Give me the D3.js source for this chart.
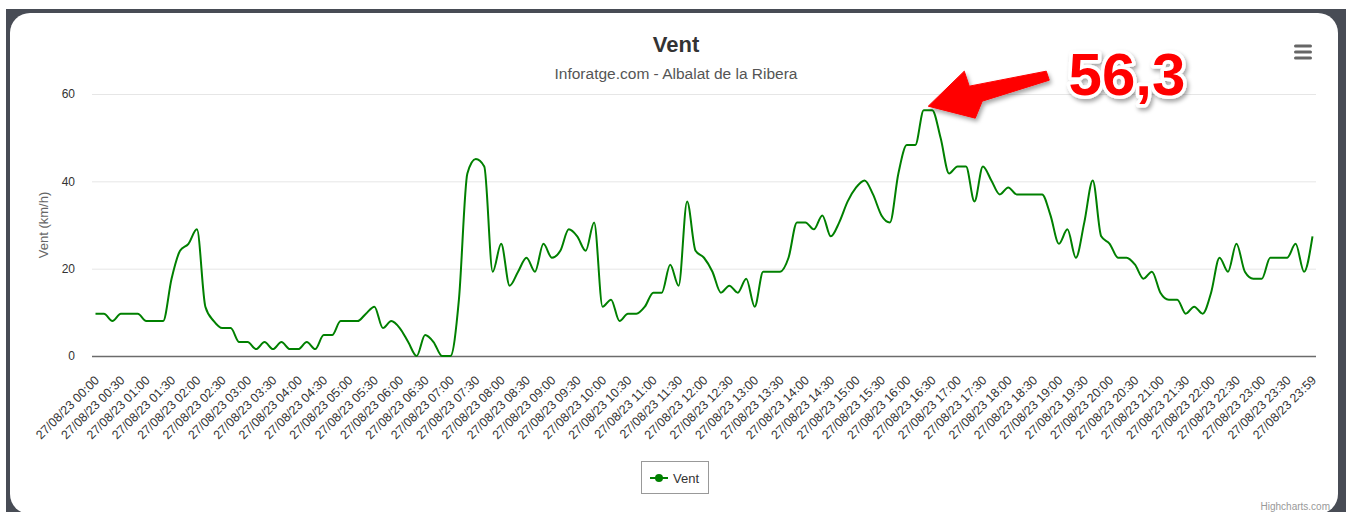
<!DOCTYPE html>
<html>
<head>
<meta charset="utf-8">
<script src="https://cdn.jsdelivr.net/npm/d3@7"></script>
<style>
  html, body { margin: 0; padding: 0; background: #fff; }
  svg { display: block; font-family: "Liberation Sans", Arial, Helvetica, sans-serif; }
</style>
</head>
<body>
<svg id="chart" width="1351" height="512"></svg>
<script>
// ---- data ----
const chartTitle = "Vent";
const chartSubtitle = "Inforatge.com - Albalat de la Ribera";
const yAxisTitle = "Vent (km/h)";
const seriesName = "Vent";
const yTicks = [0, 20, 40, 60];
const xLabels = [
  "27/08/23 00:00","27/08/23 00:30","27/08/23 01:00","27/08/23 01:30","27/08/23 02:00","27/08/23 02:30",
  "27/08/23 03:00","27/08/23 03:30","27/08/23 04:00","27/08/23 04:30","27/08/23 05:00","27/08/23 05:30",
  "27/08/23 06:00","27/08/23 06:30","27/08/23 07:00","27/08/23 07:30","27/08/23 08:00","27/08/23 08:30",
  "27/08/23 09:00","27/08/23 09:30","27/08/23 10:00","27/08/23 10:30","27/08/23 11:00","27/08/23 11:30",
  "27/08/23 12:00","27/08/23 12:30","27/08/23 13:00","27/08/23 13:30","27/08/23 14:00","27/08/23 14:30",
  "27/08/23 15:00","27/08/23 15:30","27/08/23 16:00","27/08/23 16:30","27/08/23 17:00","27/08/23 17:30",
  "27/08/23 18:00","27/08/23 18:30","27/08/23 19:00","27/08/23 19:30","27/08/23 20:00","27/08/23 20:30",
  "27/08/23 21:00","27/08/23 21:30","27/08/23 22:00","27/08/23 22:30","27/08/23 23:00","27/08/23 23:30",
  "27/08/23 23:59"
];
const labelStep = 3; // one label every 3 samples (10-minute samples)
const windValues = [
  9.7, 9.7, 8.0, 9.7, 9.7, 9.7, 8.0, 8.0, 8.0, 17.7,
  24.1, 25.7, 29.0, 11.3, 8.0, 6.4, 6.4, 3.2, 3.2, 1.6,
  3.2, 1.6, 3.2, 1.6, 1.6, 3.2, 1.6, 4.8, 4.8, 8.0,
  8.0, 8.0, 9.7, 11.3, 6.4, 8.0, 6.4, 3.2, 0, 4.8,
  3.2, 0, 0, 12.9, 41.8, 45.1, 43.4, 19.3, 25.7, 16.1,
  19.3, 22.5, 19.3, 25.7, 22.5, 24.1, 29.0, 27.4, 24.1, 30.6,
  11.3, 12.9, 8.0, 9.7, 9.7, 11.3, 14.5, 14.5, 20.9, 16.1,
  35.4, 24.1, 22.5, 19.3, 14.5, 16.1, 14.5, 17.7, 11.3, 19.3,
  19.3, 19.3, 22.5, 30.6, 30.6, 29.0, 32.2, 27.4, 30.6, 35.4,
  38.6, 40.2, 37.0, 32.2, 30.6, 41.8, 48.3, 48.3, 56.3, 56.3,
  49.9, 41.8, 43.4, 43.4, 35.4, 43.4, 40.2, 37.0, 38.6, 37.0,
  37.0, 37.0, 37.0, 32.2, 25.7, 29.0, 22.5, 30.6, 40.2, 27.4,
  25.7, 22.5, 22.5, 20.9, 17.7, 19.3, 14.5, 12.9, 12.9, 9.7,
  11.3, 9.7, 14.5, 22.5, 19.3, 25.7, 19.3, 17.7, 17.7, 22.5,
  22.5, 22.5, 25.7, 19.3, 27.4
];
const annotationText = "56,3";

// ---- drawing ----
const svg = d3.select("#chart");

// page frame + card
svg.append("rect").attr("x", 6).attr("y", 9).attr("width", 1340).attr("height", 520).attr("fill", "#484c55");
svg.append("rect").attr("x", 10).attr("y", 13).attr("width", 1328).attr("height", 501)
  .attr("rx", 20).attr("ry", 20).attr("fill", "#ffffff");

const plot = { left: 92, right: 1316, top: 94, bottom: 356 };

const x = d3.scaleLinear().domain([0, windValues.length - 1]).range([95.5, 1312.5]);
const y = d3.scaleLinear().domain([0, 60]).range([plot.bottom, plot.top]);

// gridlines + y labels
const yAxis = d3.axisLeft(y).tickValues(yTicks).tickSize(-(plot.right - plot.left)).tickPadding(17);
const gy = svg.append("g").attr("transform", `translate(${plot.left},0)`).call(yAxis);
gy.select(".domain").remove();
gy.selectAll(".tick line").attr("stroke", "#e6e6e6").attr("stroke-width", 1);
gy.selectAll(".tick text").attr("fill", "#333").attr("font-size", 12).style("font-family", "Liberation Sans, Arial, sans-serif");

// x axis
const tickIdx = d3.range(0, windValues.length, labelStep);
const xAxis = d3.axisBottom(x).tickValues(tickIdx).tickSize(0)
  .tickFormat((d, i) => xLabels[i]);
const gx = svg.append("g").attr("transform", `translate(0,${plot.bottom})`).call(xAxis);
gx.select(".domain").remove();
gx.selectAll(".tick text")
  .attr("fill", "#333").attr("font-size", 12.5)
  .style("font-family", "Liberation Sans, Arial, sans-serif")
  .attr("text-anchor", "end")
  .attr("dy", null).attr("y", 0)
  .attr("transform", "translate(4,25) rotate(-45)");
svg.append("line").attr("x1", plot.left).attr("x2", plot.right)
  .attr("y1", plot.bottom + 0.5).attr("y2", plot.bottom + 0.5)
  .attr("stroke", "#6b6b6b").attr("stroke-width", 1.4);

// y axis title
svg.append("text").attr("transform", `translate(48,${(plot.top + plot.bottom) / 2}) rotate(-90)`)
  .attr("text-anchor", "middle").attr("font-size", 13).attr("fill", "#666").text(yAxisTitle);

// line
const line = d3.line().x((d, i) => x(i)).y(d => y(d)).curve(d3.curveMonotoneX);
svg.append("path").datum(windValues).attr("d", line)
  .attr("fill", "none").attr("stroke", "#008000").attr("stroke-width", 2).attr("stroke-linejoin", "round");

// title & subtitle
svg.append("text").attr("x", 676).attr("y", 52).attr("text-anchor", "middle")
  .attr("font-size", 22).attr("font-weight", "bold").attr("fill", "#333").text(chartTitle);
svg.append("text").attr("x", 676).attr("y", 78.5).attr("text-anchor", "middle")
  .attr("font-size", 15.5).attr("fill", "#555").text(chartSubtitle);

// menu icon
[46, 52, 58].forEach(yy => {
  svg.append("rect").attr("x", 1294).attr("y", yy - 1.5).attr("width", 18).attr("height", 3)
    .attr("rx", 1.5).attr("fill", "#666");
});

// legend
const lg = svg.append("g");
lg.append("rect").attr("x", 641.5).attr("y", 461.5).attr("width", 67).attr("height", 32)
  .attr("fill", "#fff").attr("stroke", "#999").attr("stroke-width", 1);
lg.append("line").attr("x1", 650).attr("x2", 668).attr("y1", 478).attr("y2", 478)
  .attr("stroke", "#008000").attr("stroke-width", 2);
lg.append("circle").attr("cx", 659).attr("cy", 478).attr("r", 4).attr("fill", "#008000");
lg.append("text").attr("x", 673).attr("y", 482.5).attr("font-size", 13).attr("fill", "#333").text(seriesName);

// credits
svg.append("text").attr("x", 1330).attr("y", 510).attr("text-anchor", "end")
  .attr("font-size", 10).attr("fill", "#999").text("Highcharts.com");

// annotation arrow and label
const defs = svg.append("defs");
const f = defs.append("filter").attr("id", "shadow").attr("x", "-20%").attr("y", "-20%").attr("width", "140%").attr("height", "150%");
f.append("feDropShadow").attr("dx", 2).attr("dy", 3).attr("stdDeviation", 2).attr("flood-color", "#000").attr("flood-opacity", 0.35);

const peakIdx = windValues.indexOf(d3.max(windValues));
const tipX = x(peakIdx + 0.3) + 2, tipY = y(d3.max(windValues)) - 4;
const arrowPts = [
  [tipX, tipY],
  [tipX + 36, tipY - 35],
  [tipX + 41, tipY - 20],
  [tipX + 118, tipY - 35],
  [tipX + 121, tipY - 26],
  [tipX + 54, tipY - 5],
  [tipX + 47, tipY + 12]
];
svg.append("path").attr("d", "M" + arrowPts.map(p => p.join(",")).join("L") + "Z")
  .attr("fill", "#ff0000").attr("stroke", "#ff0000").attr("stroke-width", 1).attr("stroke-linejoin", "round")
  .attr("filter", "url(#shadow)");

svg.append("text").attr("x", 1127).attr("y", 95).attr("text-anchor", "middle")
  .attr("font-size", 60).attr("font-weight", "bold").attr("fill", "#ff0000")
  .attr("stroke", "#ffffff").attr("stroke-width", 7).attr("stroke-linejoin", "round")
  .attr("paint-order", "stroke").attr("filter", "url(#shadow)")
  .text(annotationText);
</script>
</body>
</html>
